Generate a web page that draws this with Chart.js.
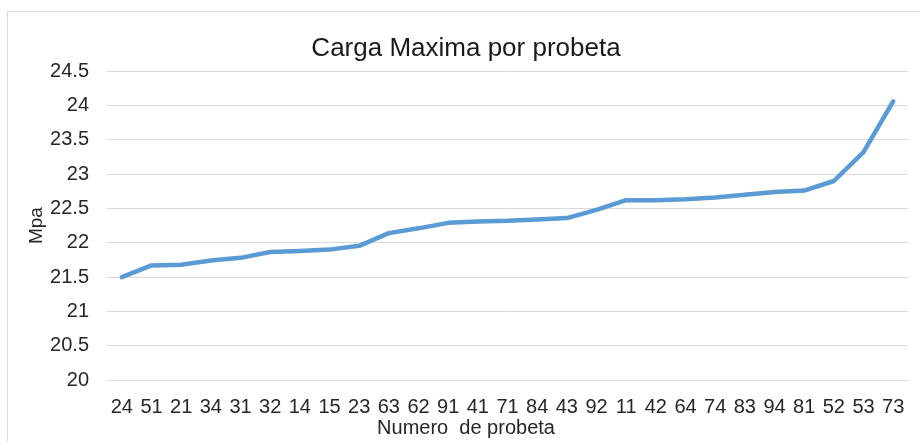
<!DOCTYPE html>
<html>
<head>
<meta charset="utf-8">
<script src="https://cdn.jsdelivr.net/npm/chart.js@4/dist/chart.umd.min.js"></script>
<style>
html,body{margin:0;padding:0;background:#fff;}
#wrap{width:920px;height:441px;position:relative;}
</style>
</head>
<body>
<div id="wrap"><canvas id="c" width="920" height="441"></canvas></div>
<script>
const probetas = ["24","51","21","34","31","32","14","15","23","63","62","91","41","71","84","43","92","11","42","64","74","83","94","81","52","53","73"];
const cargaMaxima = [21.50,21.67,21.68,21.74,21.78,21.865,21.88,21.90,21.955,22.14,22.21,22.29,22.31,22.32,22.34,22.36,22.48,22.62,22.62,22.635,22.66,22.70,22.74,22.76,22.90,23.32,24.06];
const yTicks = {min:20, max:24.5, step:0.5};

const borderPlugin = {
  id:'frame',
  beforeDraw(chart){
    const ctx = chart.ctx;
    ctx.save();
    ctx.fillStyle='#ffffff';
    ctx.fillRect(0,0,chart.width,chart.height);
    ctx.strokeStyle='#d9d9d9';
    ctx.lineWidth=1;
    ctx.beginPath();
    ctx.moveTo(7.5,chart.height+2);
    ctx.lineTo(7.5,11.5);
    ctx.lineTo(chart.width+2,11.5);
    ctx.stroke();
    ctx.restore();
  }
};

const FONT = "'Liberation Sans', Arial, sans-serif";

new Chart(document.getElementById('c'), {
  type:'line',
  data:{
    labels:probetas,
    datasets:[{
      label:'Carga Maxima',
      data:cargaMaxima,
      borderColor:'#5b9bd5',
      backgroundColor:'#5b9bd5',
      borderWidth:4.5,
      pointRadius:0,
      tension:0,
      borderCapStyle:'round',
      borderJoinStyle:'round',
      fill:false
    }]
  },
  options:{
    responsive:false,
    animation:false,
    devicePixelRatio:1,
    layout:{padding:{left:24,right:12,top:11,bottom:0}},
    plugins:{
      legend:{display:false},
      tooltip:{enabled:false},
      title:{
        display:true,
        text:'Carga Maxima por probeta',
        color:'#1a1a1a',
        font:{family:FONT,size:26,weight:'normal'},
        padding:{top:22,bottom:7}
      },
      subtitle:{
        display:true,
        position:'bottom',
        text:'Numero  de probeta',
        color:'#262626',
        font:{family:FONT,size:20,weight:'normal'},
        padding:{top:0,bottom:1}
      }
    },
    scales:{
      x:{
        offset:true,
        grid:{display:false,tickLength:0},
        border:{display:false},
        ticks:{color:'#262626',font:{family:FONT,size:20},maxRotation:0,minRotation:0,autoSkip:false,padding:15},
        afterFit(scale){ scale.height = 36; }
      },
      y:{
        min:yTicks.min,
        max:yTicks.max,
        grid:{color:'#d9d9d9',lineWidth:1,drawTicks:false},
        border:{display:false},
        ticks:{stepSize:yTicks.step,color:'#262626',font:{family:FONT,size:20},padding:18,
          callback:(v)=>String(Math.round(v*10)/10)},
        title:{display:true,text:'Mpa',color:'#262626',font:{family:FONT,size:19,weight:'normal'},padding:{top:1,bottom:0}},
        afterFit(scale){ scale.width = 83; }
      }
    }
  },
  plugins:[borderPlugin]
});
</script>
</body>
</html>
